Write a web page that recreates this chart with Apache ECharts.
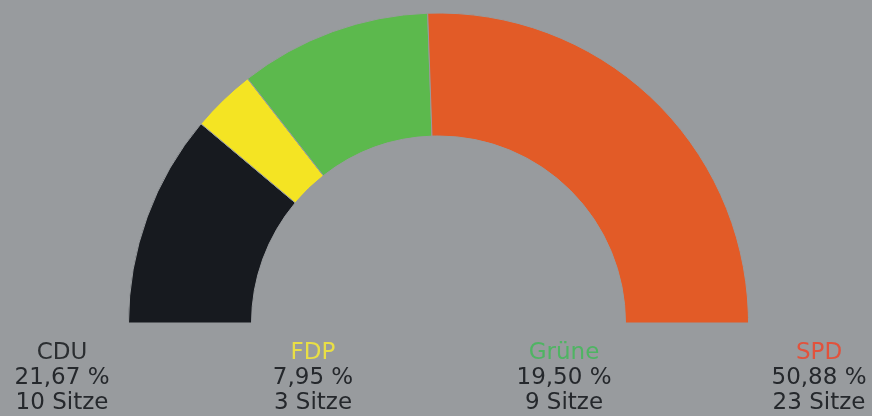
<!DOCTYPE html>
<html><head><meta charset="utf-8">
<script src="https://cdn.jsdelivr.net/npm/echarts@6/dist/echarts.min.js"></script>
<style>html,body{margin:0;padding:0;background:#989b9e;}#c{width:872px;height:416px;}</style>
</head><body><div id="c"></div>
<script>
const parties = ['CDU', 'FDP', 'Grüne', 'SPD'];
const seats = [10, 3, 9, 23];
const percents = ['21,67 %', '7,95 %', '19,50 %', '50,88 %'];
const seatLabels = ['10 Sitze', '3 Sitze', '9 Sitze', '23 Sitze'];
const colors = ['#171a1f', '#f4e423', '#5cb94d', '#e25b27'];
const nameColors = ['#2b2e31', '#e9df45', '#4fb463', '#e2523c'];

const total = seats.reduce((a, b) => a + b, 0);
const data = parties.map((p, i) => ({ name: p, value: seats[i], itemStyle: { color: colors[i] } }));
data.push({ name: 'hidden', value: total, itemStyle: { color: 'transparent', borderWidth: 0 }, label: { show: false } });

const labelX = [62, 313, 564, 819];
const graphics = parties.map((p, i) => ({
  type: 'text',
  x: labelX[i], y: 341,
  style: {
    text: '{n|' + p + '}\n{v|' + percents[i] + '}\n{v|' + seatLabels[i] + '}',
    align: 'center',
    verticalAlign: 'top',
    rich: {
      n: { fontFamily: 'DejaVu Sans', fontSize: 23, lineHeight: 25, fill: nameColors[i], align: 'center' },
      v: { fontFamily: 'DejaVu Sans', fontSize: 23, lineHeight: 25, fill: '#25282c', align: 'center' }
    }
  }
}));

const chart = echarts.init(document.getElementById('c'));
chart.setOption({
  backgroundColor: '#989b9e',
  animation: false,
  series: [{
    type: 'pie',
    center: [438.5, 323],
    radius: [187, 310],
    startAngle: 180,
    clockwise: true,
    silent: true,
    label: { show: false },
    labelLine: { show: false },
    itemStyle: { borderColor: '#989b9e', borderWidth: 1 },
    data: data
  }],
  graphic: graphics
});
</script></body></html>
